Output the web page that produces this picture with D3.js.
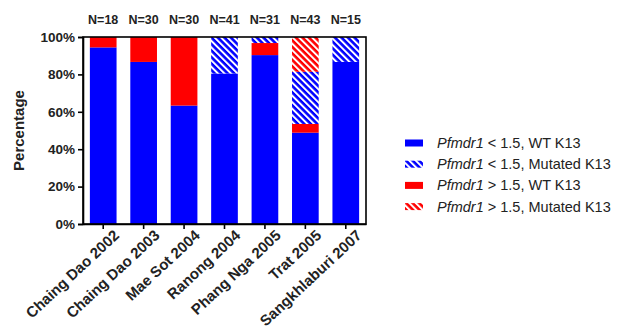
<!DOCTYPE html>
<meta charset="utf-8">
<style>
body { margin: 0; background: #fff; }
text { font-family: Arial, "Liberation Sans", sans-serif; }
.axis text { font-weight: bold; fill: #222; }
.axis path, .axis line { stroke: #000; stroke-width: 1.6px; }
</style>
<svg></svg>
<script src="https://cdn.jsdelivr.net/npm/d3@7"></script>
<script>

var sites = ["Chaing Dao 2002", "Chaing Dao 2003", "Mae Sot 2004", "Ranong 2004",
             "Phang Nga 2005", "Trat 2005", "Sangkhlaburi 2007"];
var counts = [18, 30, 30, 41, 31, 43, 15];

// number of isolates in each group, per site
var lowWT  = [17, 26, 19, 33, 28, 21, 13];
var highWT = [1, 4, 11, 0, 2, 2, 0];
var lowMut = [0, 0, 0, 8, 1, 12, 2];
var highMut = [0, 0, 0, 0, 0, 8, 0];

// stacking order, bottom to top
var groups = ["lowWT", "highWT", "lowMut", "highMut"];
var groupLabels = {
  lowWT: " < 1.5, WT K13",
  lowMut: " < 1.5, Mutated K13",
  highWT: " > 1.5, WT K13",
  highMut: " > 1.5, Mutated K13"
};
var legendOrder = ["lowWT", "lowMut", "highWT", "highMut"];
var yTicks = [0, 20, 40, 60, 80, 100];

var width = 631, height = 326;
var margin = {top: 37, right: 265, bottom: 102, left: 83};

var svg = d3.select("svg")
    .attr("width", width)
    .attr("height", height);

var defs = svg.append("defs");
[["hatchBlue", "#0000ff"], ["hatchRed", "#ff0000"]].forEach(function(p) {
  var pat = defs.append("pattern")
      .attr("id", p[0])
      .attr("patternUnits", "userSpaceOnUse")
      .attr("width", 4.6)
      .attr("height", 4.6)
      .attr("patternTransform", "rotate(-45)");
  pat.append("rect").attr("width", 4.6).attr("height", 4.6).attr("fill", p[1]);
  pat.append("rect").attr("width", 2).attr("height", 4.6).attr("fill", "#fff");
});

var fills = {lowWT: "#0000ff", highWT: "#ff0000", lowMut: "url(#hatchBlue)", highMut: "url(#hatchRed)"};

var table = sites.map(function(s, i) {
  return {site: s, n: counts[i],
    lowWT: lowWT[i] / counts[i] * 100, highWT: highWT[i] / counts[i] * 100,
    lowMut: lowMut[i] / counts[i] * 100, highMut: highMut[i] / counts[i] * 100};
});

var x = d3.scaleBand()
    .domain(sites)
    .range([margin.left, width - margin.right])
    .paddingInner(0.34)
    .paddingOuter(0.17);

var y = d3.scaleLinear()
    .domain([0, 100])
    .range([height - margin.bottom, margin.top]);

var stack = d3.stack().keys(groups)(table);

svg.append("g")
  .selectAll("g")
  .data(stack)
  .enter().append("g")
    .attr("fill", function(d) { return fills[d.key]; })
  .selectAll("rect")
  .data(function(d) { return d; })
  .enter().append("rect")
    .attr("x", function(d) { return x(d.data.site); })
    .attr("y", function(d) { return y(d[1]); })
    .attr("width", x.bandwidth())
    .attr("height", function(d) { return y(d[0]) - y(d[1]); });

// frame
svg.append("rect")
    .attr("x", margin.left)
    .attr("y", margin.top)
    .attr("width", width - margin.right - margin.left)
    .attr("height", height - margin.bottom - margin.top)
    .attr("fill", "none")
    .attr("stroke", "#000")
    .attr("stroke-width", 1.6);

svg.append("g")
    .attr("class", "axis")
    .attr("transform", "translate(" + margin.left + ",0)")
    .call(d3.axisLeft(y).tickValues(yTicks).tickSize(5).tickFormat(function(d) { return d + "%"; }))
  .selectAll("text")
    .attr("font-size", 13.5);

var xAxis = svg.append("g")
    .attr("class", "axis")
    .attr("transform", "translate(0," + (height - margin.bottom) + ")")
    .call(d3.axisBottom(x).tickSize(5).tickSizeOuter(0));

xAxis.selectAll("text")
    .attr("font-size", 15)
    .attr("text-anchor", "end")
    .attr("dx", "0.25em")
    .attr("dy", "0.85em")
    .attr("transform", "rotate(-43)");

svg.append("text")
    .attr("transform", "translate(24," + ((margin.top + height - margin.bottom) / 2) + ") rotate(-90)")
    .attr("text-anchor", "middle")
    .attr("font-weight", "bold")
    .attr("font-size", 15)
    .attr("fill", "#222")
    .text("Percentage");

svg.append("g")
  .selectAll("text")
  .data(table)
  .enter().append("text")
    .attr("x", function(d) { return x(d.site) + x.bandwidth() / 2; })
    .attr("y", 24)
    .attr("text-anchor", "middle")
    .attr("font-weight", "bold")
    .attr("font-size", 12.5)
    .attr("fill", "#222")
    .text(function(d) { return "N=" + d.n; });

var legend = svg.append("g")
  .selectAll("g")
  .data(legendOrder)
  .enter().append("g")
    .attr("transform", function(d, i) { return "translate(405," + (143 + i * 21.2) + ")"; });

legend.append("rect")
    .attr("y", -3.5)
    .attr("width", 18)
    .attr("height", 7)
    .attr("fill", function(d) { return fills[d]; });

var lt = legend.append("text")
    .attr("x", 32)
    .attr("dy", "0.35em")
    .attr("font-size", 14.5)
    .attr("fill", "#222");
lt.append("tspan").attr("font-style", "italic").text("Pfmdr1");
lt.append("tspan").text(function(d) { return groupLabels[d]; });

</script>
